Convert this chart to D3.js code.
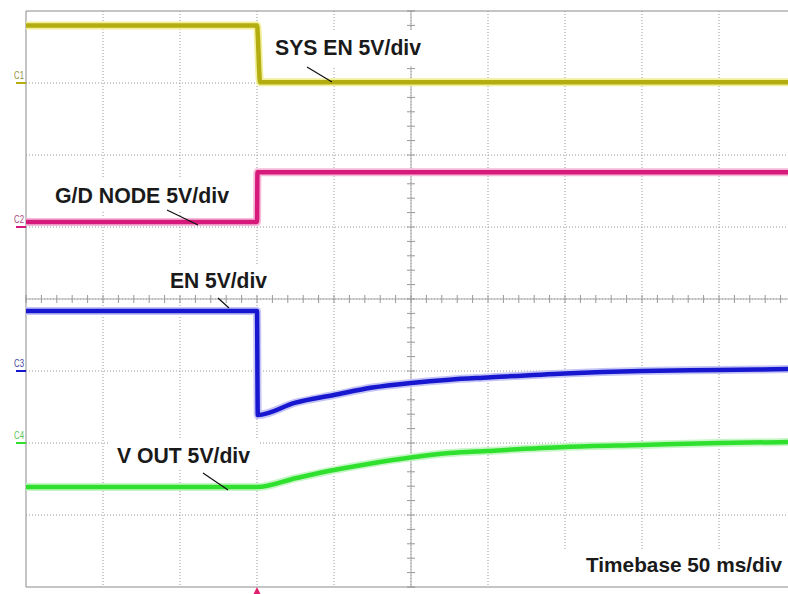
<!DOCTYPE html>
<html><head><meta charset="utf-8">
<script src="https://cdn.jsdelivr.net/npm/d3@7"></script>
<style>html,body{margin:0;padding:0;background:#fff;}svg{display:block;}</style>
</head><body>
<svg id="c" width="788" height="594"></svg>
<script>
// time axis: ms relative to trigger, 50 ms/div; voltage 5 V/div
const timeTicks = [-150, -100, -50, 0, 50, 100, 150, 200, 250, 300, 350];
const voltTicks = [-20, -15, -10, -5, 0, 5, 10, 15, 20];

const channelNames = ["C1", "C2", "C3", "C4"];
const channelColors = ["#b3ad12", "#d61a7b", "#1717cf", "#2fe02f"];
const channelHalo = ["#f2ef9a", "#f6b9d8", "#c4c4f6", "#c6f6c6"];
const channelOffsets = [15, 5, -5, -10]; // ground position (V from screen centre)

const sysEnT = [-150, 0, 2, 350];
const sysEnV = [4.0, 4.0, 0.05, 0.05];
const gdT = [-150, 0, 0.3, 350];
const gdV = [0.35, 0.35, 3.8, 3.8];
const enT = [-150, 0, 0.5, 25, 50, 75, 100, 125, 150, 200, 250, 300, 350];
const enV = [4.17, 4.17, -3.06, -2.2, -1.67, -1.15, -0.83, -0.6, -0.45, -0.17, 0, 0.07, 0.14];
const voutT = [-150, 0, 25, 50, 75, 100, 125, 150, 200, 250, 300, 350];
const voutV = [-3.06, -3.06, -2.45, -1.88, -1.4, -1.0, -0.7, -0.55, -0.28, -0.14, 0, 0.07];

const labelTexts = ["SYS EN 5V/div", "G/D NODE 5V/div", "EN 5V/div", "V OUT 5V/div"];
const timebaseText = "Timebase 50 ms/div";

const svg = d3.select("#c");
const x = d3.scaleLinear().domain([-150, 350]).range([26, 796]);
const y = d3.scaleLinear().domain([-20, 20]).range([587, 11]);

// grid
const g = svg.append("g");
g.selectAll("line.vg").data(timeTicks.slice(1)).enter().append("line")
  .attr("x1", d => x(d)).attr("x2", d => x(d)).attr("y1", y(20)).attr("y2", y(-20))
  .attr("stroke", "#9a9a9a").attr("stroke-width", 1).attr("stroke-dasharray", "1,2");
g.selectAll("line.hg").data(voltTicks.slice(1, -1)).enter().append("line")
  .attr("x1", x(-150)).attr("x2", x(350)).attr("y1", d => y(d)).attr("y2", d => y(d))
  .attr("stroke", "#9a9a9a").attr("stroke-width", 1).attr("stroke-dasharray", "1,2");

// centre axes with minor ticks
const cx = x(100), cy = y(0);
g.append("line").attr("x1", x(-150)).attr("x2", x(350)).attr("y1", cy).attr("y2", cy).attr("stroke", "#aaa");
g.append("line").attr("x1", cx).attr("x2", cx).attr("y1", y(20)).attr("y2", y(-20)).attr("stroke", "#aaa");
g.selectAll("line.mt").data(d3.range(-150, 351, 10)).enter().append("line")
  .attr("x1", d => x(d)).attr("x2", d => x(d)).attr("y1", cy - 4).attr("y2", cy + 4).attr("stroke", "#999");
g.selectAll("line.mv").data(d3.range(-20, 21, 1)).enter().append("line")
  .attr("x1", cx - 4).attr("x2", cx + 4).attr("y1", d => y(d)).attr("y2", d => y(d)).attr("stroke", "#999");

// borders
g.append("line").attr("x1", x(-150)).attr("x2", 788).attr("y1", y(20)).attr("y2", y(20)).attr("stroke", "#8a8a8a");
g.append("line").attr("x1", x(-150)).attr("x2", 788).attr("y1", y(-20)).attr("y2", y(-20)).attr("stroke", "#8a8a8a");
g.append("line").attr("x1", x(-150)).attr("x2", x(-150)).attr("y1", y(20)).attr("y2", y(-20)).attr("stroke", "#8a8a8a");

// label backgrounds (white boxes)
const boxes = [[266, 30, 170, 36], [46, 178, 192, 32], [160, 264, 116, 30], [108, 440, 152, 30], [560, 549, 228, 36]];
svg.selectAll("rect.bg").data(boxes).enter().append("rect")
  .attr("x", d => d[0]).attr("y", d => d[1]).attr("width", d => d[2]).attr("height", d => d[3]).attr("fill", "#fff");

// traces
const series = [[sysEnT, sysEnV], [gdT, gdV], [enT, enV], [voutT, voutV]];
series.forEach((s, i) => {
  const pts = s[0].map((t, k) => [t, s[1][k] + channelOffsets[i]]);
  const line = d3.line().x(d => x(d[0])).y(d => y(d[1])).curve(d3.curveMonotoneX);
  svg.append("path").attr("d", line(pts)).attr("fill", "none")
    .attr("stroke", channelHalo[i]).attr("stroke-width", 8).attr("stroke-linejoin", "round");
  svg.append("path").attr("d", line(pts)).attr("fill", "none")
    .attr("stroke", channelColors[i]).attr("stroke-width", 4.5).attr("stroke-linejoin", "round");
});

// channel ground markers
channelNames.forEach((n, i) => {
  const yy = y(channelOffsets[i]);
  svg.append("line").attr("x1", 16).attr("x2", 26).attr("y1", yy).attr("y2", yy)
    .attr("stroke", channelColors[i]).attr("stroke-width", 2);
  svg.append("text").attr("x", 14).attr("y", yy - 4).text(n)
    .attr("font-family", "Liberation Sans, Arial, sans-serif").attr("font-size", 11)
    .attr("textLength", 10).attr("lengthAdjust", "spacingAndGlyphs")
    .attr("fill", i === 3 ? "#5bc45b" : d3.interpolateRgb(channelColors[i], "#777")(0.5));
});

// labels
const labelPos = [[275, 55, 146], [55, 203, 174], [170, 288, 97], [117, 463, 133]];
labelTexts.forEach((t, i) => {
  svg.append("text").attr("x", labelPos[i][0]).attr("y", labelPos[i][1]).text(t)
    .attr("font-family", "Liberation Sans, Arial, sans-serif").attr("font-weight", "bold")
    .attr("font-size", 22).attr("textLength", labelPos[i][2]).attr("lengthAdjust", "spacingAndGlyphs")
    .attr("fill", "#1a1a1a");
});
svg.append("text").attr("x", 586).attr("y", 572).text(timebaseText)
  .attr("font-family", "Liberation Sans, Arial, sans-serif").attr("font-weight", "bold")
  .attr("font-size", 20.5).attr("textLength", 196).attr("lengthAdjust", "spacingAndGlyphs")
  .attr("fill", "#1a1a1a");

// leader lines
const leaders = [[307, 67, 332, 82], [167, 210, 198, 225], [218, 298, 229, 308], [203, 473, 228, 490]];
svg.selectAll("line.ld").data(leaders).enter().append("line")
  .attr("x1", d => d[0]).attr("y1", d => d[1]).attr("x2", d => d[2]).attr("y2", d => d[3])
  .attr("stroke", "#111").attr("stroke-width", 1.2);

// trigger marker
const tx = x(0);
svg.append("path").attr("d", `M${tx - 3.5},594 L${tx},587 L${tx + 3.5},594 Z`).attr("fill", "#e0206e");
</script>
</body></html>
